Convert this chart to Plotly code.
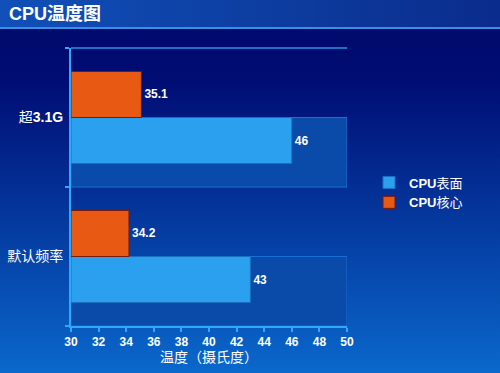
import plotly.graph_objects as go
import urllib.parse

categories = ["默认频率", "超3.1G"]
category_labels = ["默认频率", "超<b>3.1G</b>"]
surface_temp = [43, 46]
core_temp = [34.2, 35.1]
series_names = ["<b>CPU</b>表面", "<b>CPU</b>核心"]
x_ticks = list(range(30, 51, 2))

W, H = 500, 373
ML, MR, MT, MB = 71, 153, 48, 47
PW, PH = W - ML - MR, H - MT - MB

FONT = "Liberation Sans, Arial, Noto Sans CJK SC, sans-serif"

svg = f'''<svg xmlns="http://www.w3.org/2000/svg" width="{W}" height="{H}" viewBox="0 0 {W} {H}" preserveAspectRatio="none">
<defs>
<linearGradient id="bg" x1="0" y1="0" x2="0" y2="1">
<stop offset="0" stop-color="#000a6c"/>
<stop offset="0.15" stop-color="#000d74"/>
<stop offset="1" stop-color="#0a68cc"/>
</linearGradient>
<linearGradient id="tb" x1="0" y1="0" x2="1" y2="0">
<stop offset="0" stop-color="#1050b8"/>
<stop offset="1" stop-color="#0a2c8c"/>
</linearGradient>
</defs>
<rect x="0" y="29" width="{W}" height="{H-29}" fill="url(#bg)"/>
<rect x="0" y="0" width="{W}" height="27" fill="url(#tb)"/>
<rect x="0" y="27" width="{W}" height="2" fill="#3a8ee8"/>
</svg>'''
bg_uri = "data:image/svg+xml;charset=utf-8," + urllib.parse.quote(svg)

fig = go.Figure()
fig.add_trace(go.Bar(
    y=categories, x=[v - 30 for v in surface_temp], base=30, orientation="h",
    name=series_names[0], marker=dict(color="#2aa0ee", line=dict(color="#1a70c0", width=1)),
    text=[str(v) for v in surface_temp], textposition="outside", cliponaxis=False,
    textfont=dict(color="white", size=12, family=FONT), texttemplate="<b>%{text}</b>",
    hoverinfo="skip"))
fig.add_trace(go.Bar(
    y=categories, x=[v - 30 for v in core_temp], base=30, orientation="h",
    name=series_names[1], marker=dict(color="#e85a14", line=dict(color="#7a1a08", width=1)),
    text=[str(v) for v in core_temp], textposition="outside", cliponaxis=False,
    textfont=dict(color="white", size=12, family=FONT), texttemplate="<b>%{text}</b>",
    hoverinfo="skip"))

shapes = []
for i in range(len(categories)):
    shapes.append(dict(type="rect", xref="x", yref="y", x0=30, x1=50, y0=i - 0.5, y1=i,
                       fillcolor="#0a4aa8", line=dict(color="#1c6ed6", width=1), layer="below"))
shapes.append(dict(type="line", xref="paper", yref="paper", x0=0, x1=1, y0=1, y1=1,
                   line=dict(color="#2a90e8", width=1.5), layer="below"))

fig.update_layout(
    width=W, height=H,
    margin=dict(l=ML, r=MR, t=MT, b=MB, pad=0),
    paper_bgcolor="#000a6c", plot_bgcolor="rgba(0,0,0,0)",
    barmode="group", bargap=0.338, bargroupgap=0,
    font=dict(family=FONT, color="white"),
    showlegend=True,
    legend=dict(x=(369 - ML) / PW, y=(H - MB - 192.5) / PH, xanchor="left", yanchor="middle",
                bgcolor="rgba(0,0,0,0)", font=dict(size=13, color="white", family=FONT),
                traceorder="normal", itemwidth=30),
    images=[dict(source=bg_uri, xref="paper", yref="paper", x=-ML / PW, y=1 + MT / PH,
                 sizex=W / PW, sizey=H / PH, sizing="stretch", xanchor="left", yanchor="top",
                 layer="below")],
    shapes=shapes,
    annotations=[dict(text="<b>CPU温度图</b>", xref="paper", yref="paper",
                      x=-(ML - 7) / PW, y=1 + (MT - 14) / PH, xanchor="left", yanchor="middle",
                      showarrow=False, font=dict(size=18, color="white", family=FONT))],
    xaxis=dict(range=[30, 50], tickvals=x_ticks, ticktext=[f"<b>{t}</b>" for t in x_ticks],
               showgrid=False, zeroline=False, showline=True, linecolor="#30a8f8", linewidth=2,
               ticks="outside", ticklen=4, tickcolor="#30a8f8", tickwidth=1.5, automargin=False,
               tickfont=dict(size=12, color="white", family=FONT),
               title=dict(text="温度（摄氏度）", font=dict(size=14, color="white", family=FONT), standoff=4)),
    yaxis=dict(type="category", categoryorder="array", categoryarray=categories,
               range=[-0.5, 1.5], showgrid=False, zeroline=False, showline=True,
               linecolor="#30a8f8", linewidth=2, ticks="outside", tickson="boundaries",
               ticklen=4, tickcolor="#30a8f8", tickwidth=1.5, ticklabelstandoff=3, automargin=False,
               tickvals=categories, ticktext=category_labels,
               tickfont=dict(size=14, color="white", family=FONT)),
)

fig.write_html("out.html", config={"displayModeBar": False},
               post_script="document.body.style.margin='0';document.body.style.background='#000a6c';")
